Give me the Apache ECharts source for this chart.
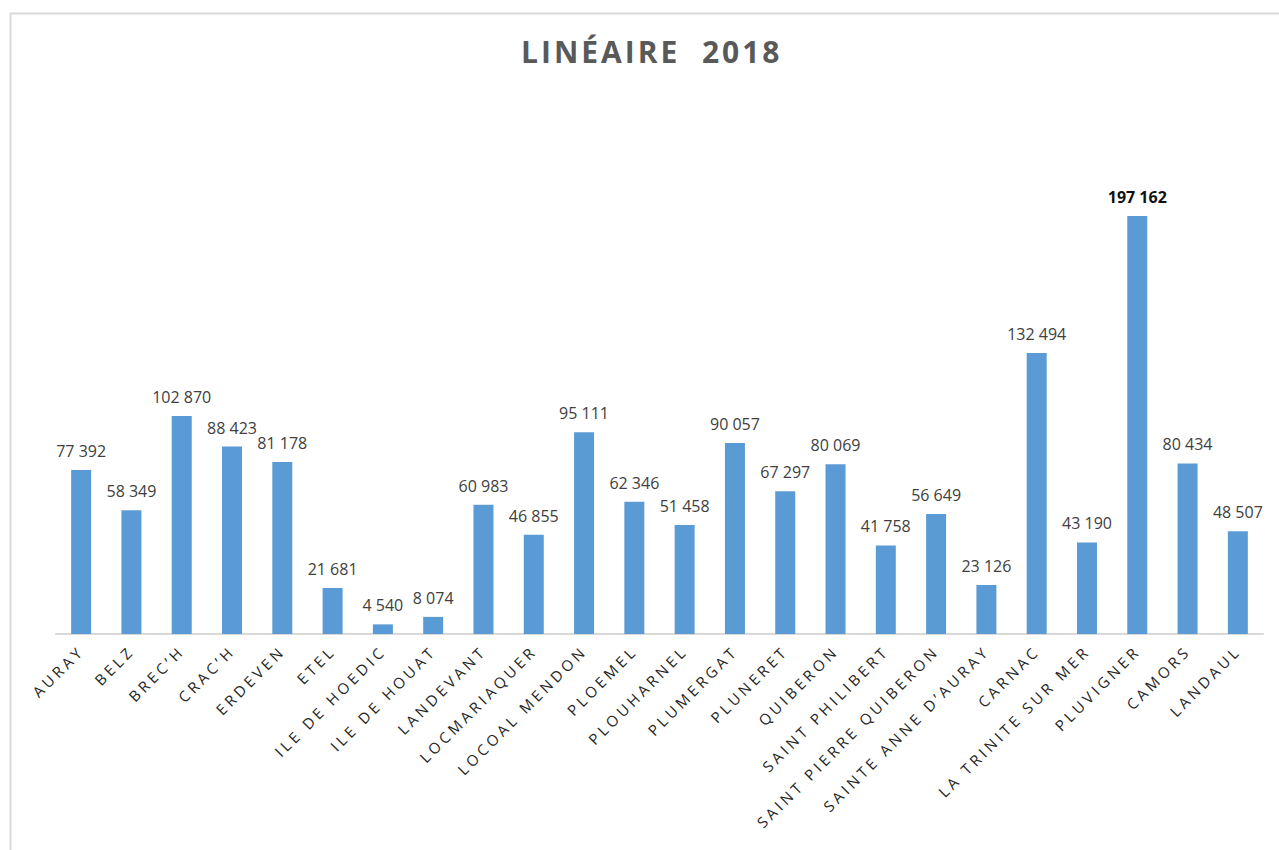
<!DOCTYPE html>
<html>
<head>
<meta charset="utf-8">
<script src="https://cdn.jsdelivr.net/npm/echarts@6/dist/echarts.min.js"></script>
<style>
  html, body { margin: 0; padding: 0; background: #fff; }
  #chart { width: 1279px; height: 850px; }
  #chart text { white-space: pre; }
</style>
</head>
<body>
<div id="chart"></div>
<script>
const title = 'LINÉAIRE  2018'

const communes = [
  'AURAY', 'BELZ', 'BREC’H', 'CRAC’H', 'ERDEVEN', 'ETEL', 'ILE DE HOEDIC',
  'ILE DE HOUAT', 'LANDEVANT', 'LOCMARIAQUER', 'LOCOAL MENDON', 'PLOEMEL',
  'PLOUHARNEL', 'PLUMERGAT', 'PLUNERET', 'QUIBERON', 'SAINT PHILIBERT',
  'SAINT PIERRE QUIBERON', 'SAINTE ANNE D’AURAY', 'CARNAC',
  'LA TRINITE SUR MER', 'PLUVIGNER', 'CAMORS', 'LANDAUL',
]

const lineaire = [
  77392, 58349, 102870, 88423, 81178, 21681, 4540, 8074, 60983, 46855,
  95111, 62346, 51458, 90057, 67297, 80069, 41758, 56649, 23126, 132494,
  43190, 197162, 80434, 48507,
]

// the largest value is shown in bold
const highlighted = 'PLUVIGNER'

function formatNumber(v) {
  return String(v).replace(/\B(?=(\d{3})+(?!\d))/g, ' ')
}

const chartEl = document.getElementById('chart')
const chart = echarts.init(chartEl, null, { renderer: 'svg' })

const options = {
  animation: false,
  textStyle: { fontFamily: 'Open Sans' },
  title: {
    text: title,
    left: 516,
    top: 31,
    textStyle: {
      fontFamily: 'Open Sans',
      fontSize: 30,
      fontWeight: 'bold',
      color: '#595959',
    },
  },
  graphic: [
    {
      type: 'rect',
      left: 8,
      top: 11,
      shape: { width: 1290, height: 860 },
      style: { fill: 'none', stroke: '#d9d9d9', lineWidth: 2 },
      silent: true,
    },
  ],
  grid: {
    left: 56,
    right: 16,
    top: 210,
    bottom: 216,
  },
  xAxis: {
    type: 'category',
    data: communes,
    axisLine: { lineStyle: { color: '#d9d9d9', width: 2 } },
    axisTick: { show: false },
    axisLabel: {
      interval: 0,
      rotate: 45,
      margin: 14,
      fontSize: 15,
      color: '#262626',
      fontFamily: 'Open Sans',
    },
  },
  yAxis: {
    type: 'value',
    min: 0,
    max: 200000,
    show: false,
    splitLine: { show: false },
  },
  series: [
    {
      name: 'Linéaire',
      type: 'bar',
      barWidth: 20,
      itemStyle: { color: '#5b9bd5' },
      label: {
        show: true,
        position: 'top',
        distance: 11,
        fontSize: 16,
        color: '#404040',
        fontFamily: 'Open Sans',
        formatter: (p) => formatNumber(p.value),
      },
      data: lineaire.map((v, i) =>
        communes[i] === highlighted
          ? { value: v, label: { fontWeight: 'bold', color: '#111111' } }
          : v
      ),
    },
  ],
}

chart.setOption(options)

// Excel-like letter spacing on the category labels and the title
function spaceLetters() {
  const names = new Set(communes)
  chartEl.querySelectorAll('text').forEach(function (t) {
    const s = t.textContent
    if (names.has(s)) {
      t.style.letterSpacing = '3.6px'
    } else if (s.replace(/\s+/g, ' ') === title.replace(/\s+/g, ' ')) {
      t.style.letterSpacing = '3px'
    }
  })
}
chart.on('finished', spaceLetters)
spaceLetters()
</script>
</body>
</html>
